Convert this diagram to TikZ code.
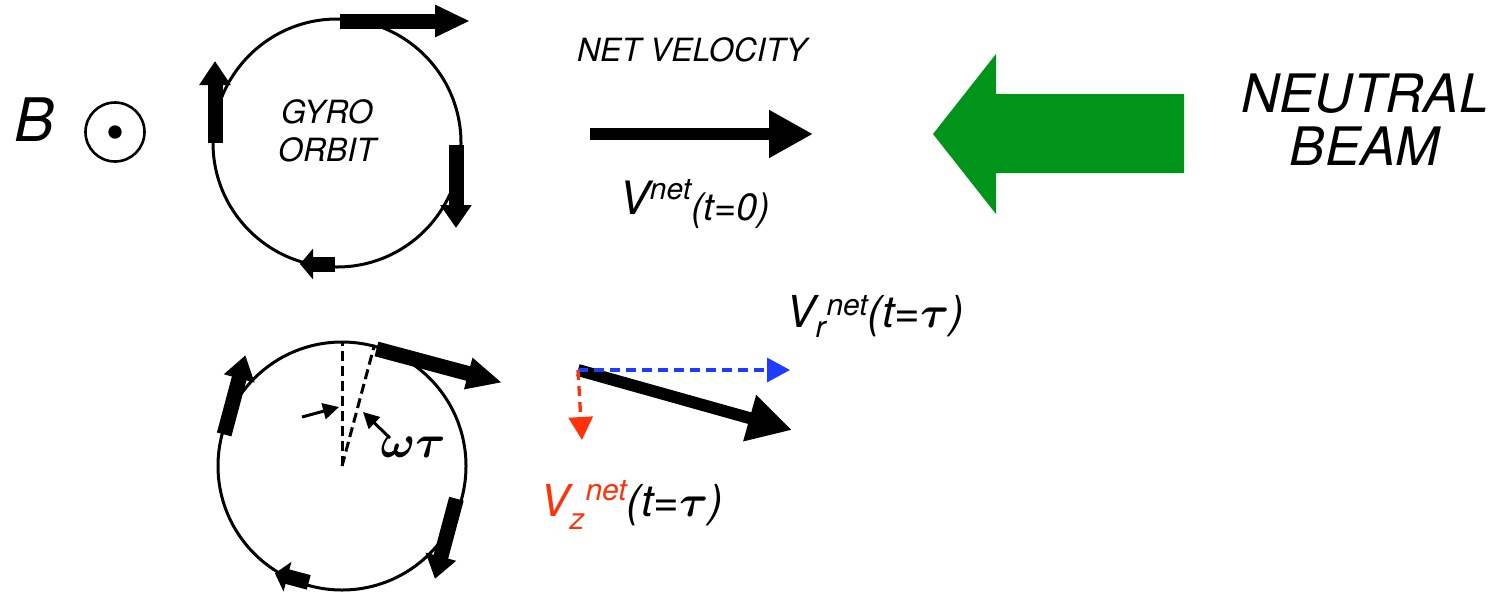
\documentclass[tikz,border=0pt]{standalone}
\usepackage{fix-cm}
\usepackage{bm}
\usepackage{fontspec}
\setmainfont{TeX Gyre Heros}
\usetikzlibrary{arrows.meta}
\definecolor{beamGreen}{RGB}{0,148,26}
\definecolor{vrBlue}{RGB}{30,60,255}
\definecolor{vzRed}{RGB}{255,50,10}

% the four velocity kicks round one gyro orbit, centre at (0,0)
\newcommand{\gyrokicks}{%
  \draw[kick=35pt] (3,-122) -- (133,-122);
  \draw[kick=24pt] (-122,0) -- (-122,-82);
  \draw[kick=23pt] (119,2) -- (119,85);
  \draw[kick=13pt] (-2,121) -- (-37,121);
}
\newcommand{\sizedtext}[2]{{\fontsize{#1}{#1}\selectfont #2}}

\begin{document}
\begin{tikzpicture}[x=1pt,y=-1pt,
  txt/.style={inner sep=0pt,font=\fontsize{#1}{#1}\selectfont\itshape},
  lbl/.style={anchor=base west,inner sep=0pt,font=\itshape},
  orbit/.style={draw,circle,line width=3pt,minimum size=248pt,inner sep=0pt},
  kick/.style={line width=15pt,-{Triangle[length=#1,width=30pt]}},
  kick/.default=26pt,
  vel/.style={line width=12pt,-{Triangle[length=44pt,width=45pt]}},
  comp/.style={line width=3.3pt,dash pattern=on 10pt off 6pt,-{Triangle[length=23pt,width=24pt]}},
  guide/.style={line width=3pt,dash pattern=on 10pt off 5pt},
  angtick/.style={line width=3pt,-{Triangle[length=16pt,width=16pt]}}
]
\useasboundingbox (0,0) rectangle (1493,595);

% field direction
\node[txt=60] (bsym) at (35,120) {B};
\node[circle,draw,line width=2.6pt,minimum size=59pt,inner sep=0pt] (bdir) at (115,132) {};
\fill (bdir.center) circle (6.7pt);

% orbit at t=0
\node[orbit] (orbitA) at (337,143) {};
\node[txt=32,align=center] (gyro) at (327,131) {GYRO\\[6pt]ORBIT};
\begin{scope}[shift={(orbitA.center)}]
  \gyrokicks
\end{scope}

% net velocity at t=0
\node[txt=32] (netvel) at (692,50) {NET VELOCITY};
\coordinate (v0tail) at (590,134);
\coordinate (v0head) at (813,134);
\draw[vel] (v0tail) -- (v0head);
\node[lbl] (v0lbl) at (619,214) {\sizedtext{46}{V}\sizedtext{30}{\raisebox{15pt}{net}}\sizedtext{38}{\raisebox{-6pt}{(t=0)}}};

% neutral beam
\fill[beamGreen] (933,134) -- (996,54) -- (996,94) -- (1184,94) -- (1184,173) -- (996,173) -- (996,214) -- cycle;
\node[txt=53,align=center] (beam) at (1365,120) {NEUTRAL\\BEAM};

% orbit at t=tau
\node[orbit] (orbitB) at (342,466) {};
\draw[guide] (orbitB.center) -- (orbitB.north);
\draw[guide] (orbitB.center) -- (orbitB.75);
\begin{scope}[shift={(orbitB.center)},rotate=-15]
  \gyrokicks
\end{scope}
\draw[angtick] (302,417) -- (339,407);
\draw[angtick] (390,438) -- (363,412);
\node[inner sep=0pt] (omegatau) at (413,447) {\sizedtext{46}{$\bm{\omega\tau}$}};

% net velocity at t=tau and its components
\coordinate (vtail) at (578,370);
\coordinate (vhead) at (792,430);
\coordinate (vrhead) at (790,370);
\coordinate (vzhead) at (582,440);
\draw[vel] (vtail) -- (vhead);
\draw[comp,vrBlue] (vtail) -- (vrhead);
\draw[comp,vzRed] (vtail) -- (vzhead);
\node[lbl] (vrlbl) at (786,327) {\sizedtext{44}{V}\sizedtext{30}{\raisebox{-10pt}{r}}\kern1pt\sizedtext{30}{\raisebox{12pt}{net}}\sizedtext{44}{(t=$\bm{\tau}$)}};
\node[lbl,text=vzRed] (vzlbl) at (540,516) {\sizedtext{44}{V}\sizedtext{30}{\raisebox{-13pt}{z}}\kern1pt\sizedtext{30}{\raisebox{16pt}{net}}\textcolor{black}{\sizedtext{44}{(t=$\bm{\tau}$)}}};
\end{tikzpicture}
\end{document}
